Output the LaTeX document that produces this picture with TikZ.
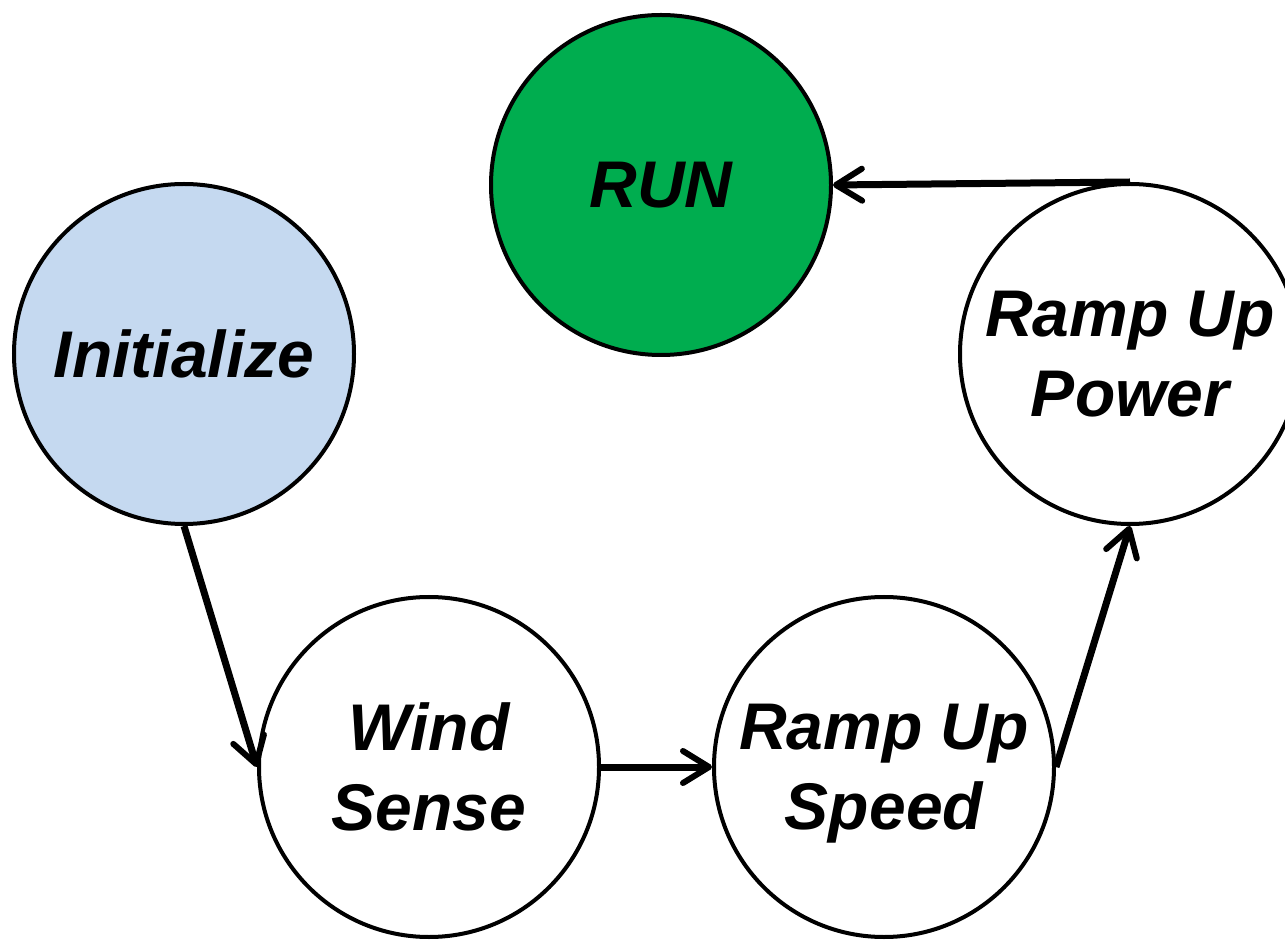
\documentclass[tikz,border=0pt]{standalone}
\usepackage{fontspec}
\setmainfont{Liberation Sans}
\usetikzlibrary{arrows.meta}
\definecolor{initblue}{HTML}{C5D9F0}
\definecolor{rungreen}{HTML}{00AD4F}
\tikzset{
  state/.style={circle, draw=black, line width=2pt, minimum size=170pt, inner sep=0pt,
    font=\fontsize{33}{40}\selectfont\bfseries\itshape, align=center, text depth=0pt},
  flow/.style={line width=3.5pt, -{Straight Barb[length=13pt,width=16pt,round,line width=3pt]}}
}
\begin{document}
\begin{tikzpicture}[x=0.5pt,y=-0.5pt]
\useasboundingbox (0,0) rectangle (1285,940);
\clip (0,0) rectangle (1285,940);
\node[state, fill=initblue] (init) at (184,354) {Initialize};
\node[state, fill=rungreen] (run) at (661,185) {RUN};
\node[state, fill=white] (wind) at (429,767) {Wind\\Sense};
\node[state, fill=white] (speed) at (884,767) {Ramp Up\\Speed};
\node[state, fill=white] (power) at (1130,354) {Ramp Up\\Power};
\draw[flow] (init.south) -- (wind.west);
\draw[flow] (wind.east) -- (speed.west);
\draw[flow] (speed.east) -- (power.south);
\draw[flow] (power.north) -- (run.east);
\end{tikzpicture}
\end{document}
